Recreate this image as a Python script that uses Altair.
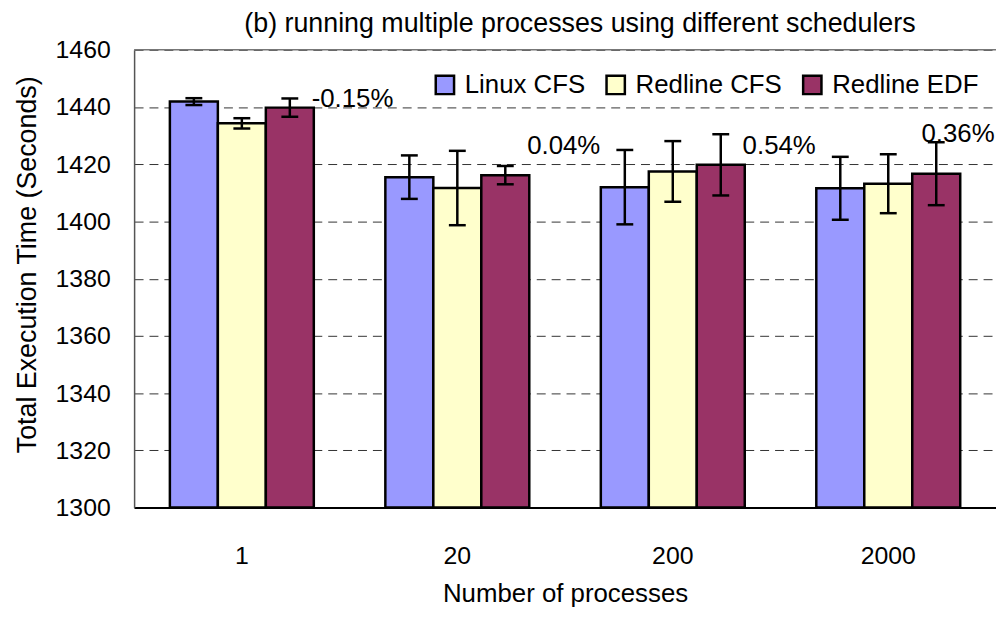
import altair as alt
import pandas as pd

# ---- data ----
groups = ["1", "20", "200", "2000"]
series = ["Linux CFS", "Redline CFS", "Redline EDF"]
linux_cfs = [1441.9, 1415.5, 1412.0, 1411.6]
linux_cfs_err = [1.2, 7.6, 13.0, 11.0]
redline_cfs = [1434.3, 1411.7, 1417.5, 1413.2]
redline_cfs_err = [1.8, 13.0, 10.6, 10.3]
redline_edf = [1439.8, 1416.2, 1419.8, 1416.7]
redline_edf_err = [3.2, 3.2, 10.7, 11.0]
diff_labels = ["-0.15%", "0.04%", "0.54%", "0.36%"]
diff_label_y = [1442.9, 1426.2, 1426.2, 1430.5]
colors = ["#9999FF", "#FFFFCC", "#993366"]

rows = []
for s, vals, errs in zip(series, [linux_cfs, redline_cfs, redline_edf],
                         [linux_cfs_err, redline_cfs_err, redline_edf_err]):
    for g, v, e in zip(groups, vals, errs):
        rows.append({"group": g, "series": s, "value": v,
                     "lo": v - e, "hi": v + e, "base": 1300})
df = pd.DataFrame(rows)
lab = pd.DataFrame({"group": groups, "series": ["Redline EDF"] * 4,
                    "text": diff_labels, "value": diff_label_y})

FONT = "Liberation Sans"

x_enc = alt.X("group:N", sort=groups,
              scale=alt.Scale(paddingInner=0.332, paddingOuter=0.166),
              axis=alt.Axis(title="Number of processes", labelAngle=0, ticks=False,
                            labelPadding=36, titlePadding=13, titleFontSize=26,
                            labelFontSize=25,
                            domainColor="#000000", domainWidth=2))
xo_enc = alt.XOffset("series:N", sort=series,
                     scale=alt.Scale(paddingInner=0, paddingOuter=0))
y_scale = alt.Scale(domain=[1300, 1460], nice=False, zero=False)
y_enc = alt.Y("value:Q", scale=y_scale,
              axis=alt.Axis(title="Total Execution Time (Seconds)", format="d",
                            values=list(range(1300, 1461, 20)), grid=True,
                            gridDash=[9, 6], gridColor="#333333", gridWidth=1,
                            ticks=False, labelPadding=24, titlePadding=14,
                            titleFontSize=27, labelFontSize=25, titleY=216,
                            domainColor="#555555", domainWidth=1.5))

base = alt.Chart(df)

bars = base.mark_bar(stroke="black", strokeWidth=2.5).encode(
    x=x_enc, xOffset=xo_enc, y=y_enc, y2="base:Q",
    color=alt.Color("series:N", sort=series,
                    scale=alt.Scale(domain=series, range=colors),
                    legend=alt.Legend(title=None, orient="none", legendX=300, legendY=22,
                                      direction="horizontal", symbolType="square",
                                      symbolSize=340, symbolStrokeColor="black",
                                      symbolStrokeWidth=2.5, symbolOpacity=1,
                                      labelFontSize=26, labelOffset=7, columnPadding=15,
                                      labelFont=FONT, labelColor="black")),
)

err = base.mark_rule(color="black", strokeWidth=2.5).encode(
    x=alt.X("group:N", sort=groups), xOffset=xo_enc, y="lo:Q", y2="hi:Q")
cap_hi = base.mark_tick(color="black", size=17, thickness=2.5, opacity=1).encode(
    x=alt.X("group:N", sort=groups), xOffset=xo_enc, y="hi:Q")
cap_lo = base.mark_tick(color="black", size=17, thickness=2.5, opacity=1).encode(
    x=alt.X("group:N", sort=groups), xOffset=xo_enc, y="lo:Q")

labels_a = alt.Chart(lab[lab["group"] != "2000"]).mark_text(
    align="left", baseline="middle", fontSize=26, dx=22, color="black").encode(
    x=alt.X("group:N", sort=groups), xOffset=xo_enc, y="value:Q", text="text:N")
labels_b = alt.Chart(lab[lab["group"] == "2000"]).mark_text(
    align="center", baseline="middle", fontSize=26, dx=22, color="black").encode(
    x=alt.X("group:N", sort=groups), xOffset=xo_enc, y="value:Q", text="text:N")

top_rule = alt.Chart(pd.DataFrame({"value": [1460]})).mark_rule(
    color="#777777", strokeWidth=1.5).encode(y="value:Q")

chart = alt.layer(bars, err, cap_hi, cap_lo, labels_a, labels_b, top_rule).properties(
    width=868, height=461,
    padding={"left": 127, "top": 40, "right": 0, "bottom": 99},
    autosize=alt.AutoSizeParams(type="none"),
    title=alt.TitleParams("(b) running multiple processes using different schedulers",
                          fontSize=27, fontWeight="normal", anchor="middle", dx=15,
                          offset=0, font=FONT, color="black"),
).configure(font=FONT).configure_view(stroke=None).configure_axis(
    labelFont=FONT, titleFont=FONT,
    labelColor="black", titleColor="black", titleFontWeight="normal")

chart.save("out.html", embed_options={"renderer": "svg", "actions": False})
